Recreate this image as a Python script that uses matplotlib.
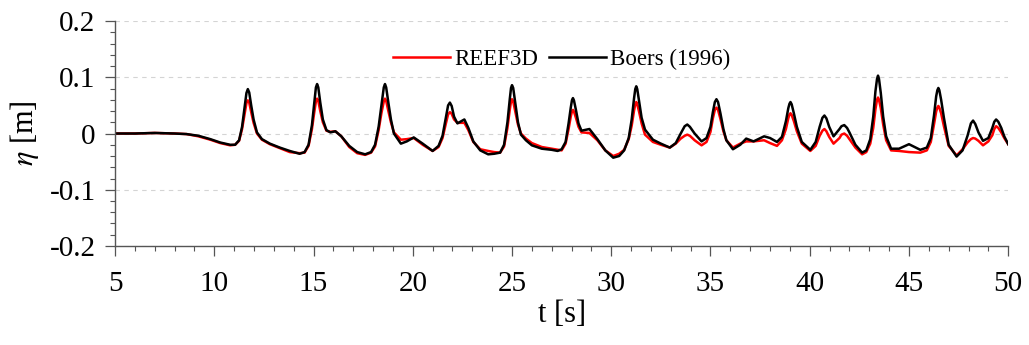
import matplotlib
matplotlib.use('Agg')
import matplotlib.pyplot as plt
from matplotlib.ticker import MultipleLocator

plt.rcParams['font.family'] = ['Liberation Serif', 'DejaVu Serif']
plt.rcParams['mathtext.fontset'] = 'stix'

# time [s] with surface elevation [m]
t = [5.0, 6.0, 7.0, 8.0, 8.6, 9.2, 9.8, 10.3, 10.8,
     11.05, 11.25, 11.4, 11.52, 11.62, 11.69, 11.76, 11.86, 11.98, 12.15, 12.4, 12.8, 13.3, 13.8, 14.3,
     14.55, 14.75, 14.92, 15.03, 15.12, 15.18, 15.24, 15.34, 15.47, 15.65, 15.85, 16.1, 16.4, 16.8, 17.2, 17.6,
     17.9, 18.1, 18.28, 18.42, 18.54, 18.6, 18.66, 18.77, 18.9, 19.05, 19.4, 19.7, 20.05, 20.5, 21.0,
     21.3, 21.5, 21.65, 21.78, 21.87, 21.96, 22.08, 22.25, 22.45, 22.6, 22.8, 23.05, 23.4, 23.8, 24.1,
     24.4, 24.6, 24.77, 24.89, 24.95, 25.0, 25.06, 25.16, 25.3, 25.45, 25.7, 26.0, 26.5, 27.0, 27.3,
     27.5, 27.7, 27.85, 27.96, 28.02, 28.07, 28.12, 28.22, 28.35, 28.5, 28.9, 29.3, 29.7, 30.1,
     30.4, 30.65, 30.88, 31.03, 31.15, 31.21, 31.26, 31.31, 31.4, 31.53, 31.7, 32.1, 32.5, 32.95,
     33.25, 33.5, 33.7, 33.83, 33.96, 34.2, 34.55,
     34.8, 35.0, 35.12, 35.22, 35.3, 35.38, 35.5, 35.65, 35.8, 36.13, 36.5, 36.8, 37.17, 37.7, 38.0, 38.35,
     38.6, 38.8, 38.92, 38.98, 39.03, 39.09, 39.2, 39.35, 39.6, 40.03,
     40.3, 40.5, 40.64, 40.74, 40.84, 40.98, 41.2, 41.5, 41.6, 41.74, 41.88, 42.0, 42.3, 42.64,
     42.85, 43.05, 43.2, 43.31, 43.39, 43.44, 43.49, 43.58, 43.7, 43.85, 44.1, 44.5, 45.0, 45.57,
     45.9, 46.1, 46.26, 46.37, 46.43, 46.48, 46.53, 46.62, 46.76, 47.0, 47.4,
     47.7, 47.95, 48.12, 48.23, 48.34, 48.5, 48.73,
     49.0, 49.2, 49.3, 49.39, 49.5, 49.65, 49.8, 50.0]

eta_boers = [0, 0, 0.001, 0.0, -0.001, -0.004, -0.010, -0.016, -0.020,
             -0.020, -0.012, 0.012, 0.045, 0.072, 0.079, 0.073, 0.050, 0.025, 0.002, -0.010, -0.018, -0.025, -0.031, -0.036,
             -0.033, -0.020, 0.015, 0.052, 0.082, 0.088, 0.082, 0.055, 0.025, 0.006, 0.002, 0.004, -0.005, -0.022, -0.033, -0.037,
             -0.033, -0.020, 0.012, 0.050, 0.082, 0.088, 0.082, 0.055, 0.025, 0.000, -0.018, -0.014, -0.007, -0.018, -0.031,
             -0.022, -0.004, 0.025, 0.050, 0.055, 0.049, 0.030, 0.018, 0.022, 0.025, 0.010, -0.014, -0.030, -0.037, -0.036,
             -0.034, -0.020, 0.020, 0.062, 0.081, 0.086, 0.081, 0.055, 0.020, -0.002, -0.012, -0.021, -0.027, -0.029, -0.031,
             -0.028, -0.015, 0.018, 0.046, 0.059, 0.063, 0.059, 0.042, 0.018, 0.005, 0.008, -0.010, -0.030, -0.043,
             -0.040, -0.030, -0.008, 0.025, 0.063, 0.079, 0.084, 0.079, 0.058, 0.028, 0.007, -0.011, -0.018, -0.025,
             -0.017, 0.000, 0.013, 0.016, 0.012, 0.000, -0.014,
             -0.008, 0.012, 0.038, 0.056, 0.061, 0.056, 0.036, 0.008, -0.012, -0.028, -0.020, -0.009, -0.014, -0.005, -0.008, -0.015,
             -0.006, 0.022, 0.045, 0.053, 0.056, 0.052, 0.036, 0.012, -0.015, -0.029,
             -0.015, 0.012, 0.028, 0.032, 0.027, 0.012, -0.005, 0.008, 0.013, 0.015, 0.010, 0.002, -0.020, -0.034,
             -0.030, -0.010, 0.030, 0.075, 0.097, 0.103, 0.097, 0.072, 0.030, -0.005, -0.027, -0.027, -0.019, -0.029,
             -0.025, -0.008, 0.032, 0.066, 0.077, 0.081, 0.077, 0.060, 0.028, -0.020, -0.041,
             -0.030, -0.004, 0.018, 0.023, 0.017, 0.002, -0.013,
             -0.008, 0.010, 0.021, 0.025, 0.021, 0.010, -0.005, -0.019]

eta_reef3d = [0, 0, 0.001, 0.0, -0.001, -0.005, -0.011, -0.017, -0.021,
              -0.020, -0.013, 0.008, 0.033, 0.054, 0.059, 0.055, 0.038, 0.019, 0.000, -0.011, -0.019, -0.026, -0.033, -0.035,
              -0.034, -0.022, 0.008, 0.036, 0.057, 0.062, 0.058, 0.040, 0.020, 0.005, 0.003, 0.004, -0.005, -0.024, -0.035, -0.038,
              -0.034, -0.023, 0.006, 0.036, 0.057, 0.062, 0.058, 0.040, 0.020, 0.002, -0.011, -0.010, -0.008, -0.020, -0.031,
              -0.024, -0.008, 0.015, 0.034, 0.038, 0.035, 0.025, 0.019, 0.019, 0.019, 0.006, -0.015, -0.028, -0.031, -0.033,
              -0.034, -0.023, 0.010, 0.043, 0.057, 0.061, 0.057, 0.040, 0.016, 0.000, -0.009, -0.017, -0.024, -0.027, -0.029,
              -0.030, -0.018, 0.008, 0.030, 0.039, 0.042, 0.039, 0.028, 0.012, 0.002, 0.001, -0.012, -0.030, -0.040,
              -0.036, -0.029, -0.010, 0.014, 0.041, 0.052, 0.056, 0.052, 0.039, 0.018, -0.002, -0.015, -0.020, -0.025,
              -0.018, -0.009, -0.004, -0.002, -0.004, -0.012, -0.021,
              -0.015, 0.003, 0.027, 0.042, 0.046, 0.042, 0.026, 0.004, -0.012, -0.025, -0.018, -0.014, -0.014, -0.012, -0.017, -0.022,
              -0.012, 0.008, 0.027, 0.034, 0.036, 0.033, 0.022, 0.004, -0.018, -0.031,
              -0.022, -0.004, 0.005, 0.008, 0.004, -0.006, -0.018, -0.008, -0.002, 0.000, -0.004, -0.010, -0.025, -0.037,
              -0.033, -0.018, 0.010, 0.043, 0.060, 0.064, 0.060, 0.045, 0.016, -0.012, -0.030, -0.031, -0.033, -0.034,
              -0.030, -0.015, 0.016, 0.039, 0.046, 0.049, 0.046, 0.036, 0.013, -0.022, -0.039,
              -0.028, -0.016, -0.010, -0.008, -0.009, -0.013, -0.021,
              -0.014, -0.003, 0.008, 0.013, 0.010, 0.002, -0.008, -0.019]

fig = plt.figure(figsize=(10.29, 3.45), dpi=100)
ax = fig.add_axes([0.1118, 0.287, 0.868, 0.652])

ax.plot(t, eta_reef3d, color='#ff0000', lw=1.8, label='REEF3D', solid_joinstyle='round')
ax.plot(t, eta_boers, color='black', lw=1.8, label='Boers (1996)', solid_joinstyle='round')

ax.set_xlim(5, 50)
ax.set_ylim(-0.2, 0.2)
ax.xaxis.set_major_locator(MultipleLocator(5))
ax.xaxis.set_minor_locator(MultipleLocator(1))
ax.yaxis.set_minor_locator(MultipleLocator(0.02))
ax.set_yticks([-0.2, -0.1, 0, 0.1, 0.2])
ax.set_yticklabels(['-0.2', '-0.1', '0', '0.1', '0.2'])

for s in ['top', 'right']:
    ax.spines[s].set_visible(False)
for s in ['left', 'bottom']:
    ax.spines[s].set_color('#555555')
    ax.spines[s].set_linewidth(1.0)

ax.tick_params(which='major', direction='out', length=7, width=0.9, color='#555555', labelsize=21)
ax.tick_params(which='minor', direction='out', length=3.5, width=0.8, color='#555555')
ax.tick_params(axis='y', which='major', pad=7)
ax.tick_params(axis='x', which='major', pad=11)

ax.grid(axis='y', which='major', color='#d4d4d4', linestyle=(0, (4, 4)), lw=0.8)
ax.set_axisbelow(True)

ax.set_xlabel('t [s]', fontsize=22, labelpad=2)
ax.set_ylabel(r'$\eta$ [m]', fontsize=22, labelpad=6)

ax.legend(loc='center', bbox_to_anchor=(0.5, 0.83), ncol=2, frameon=False, fontsize=16.5,
          handlelength=2.5, handletextpad=0.2, columnspacing=0.45)

fig.savefig('out.png', dpi=100)
